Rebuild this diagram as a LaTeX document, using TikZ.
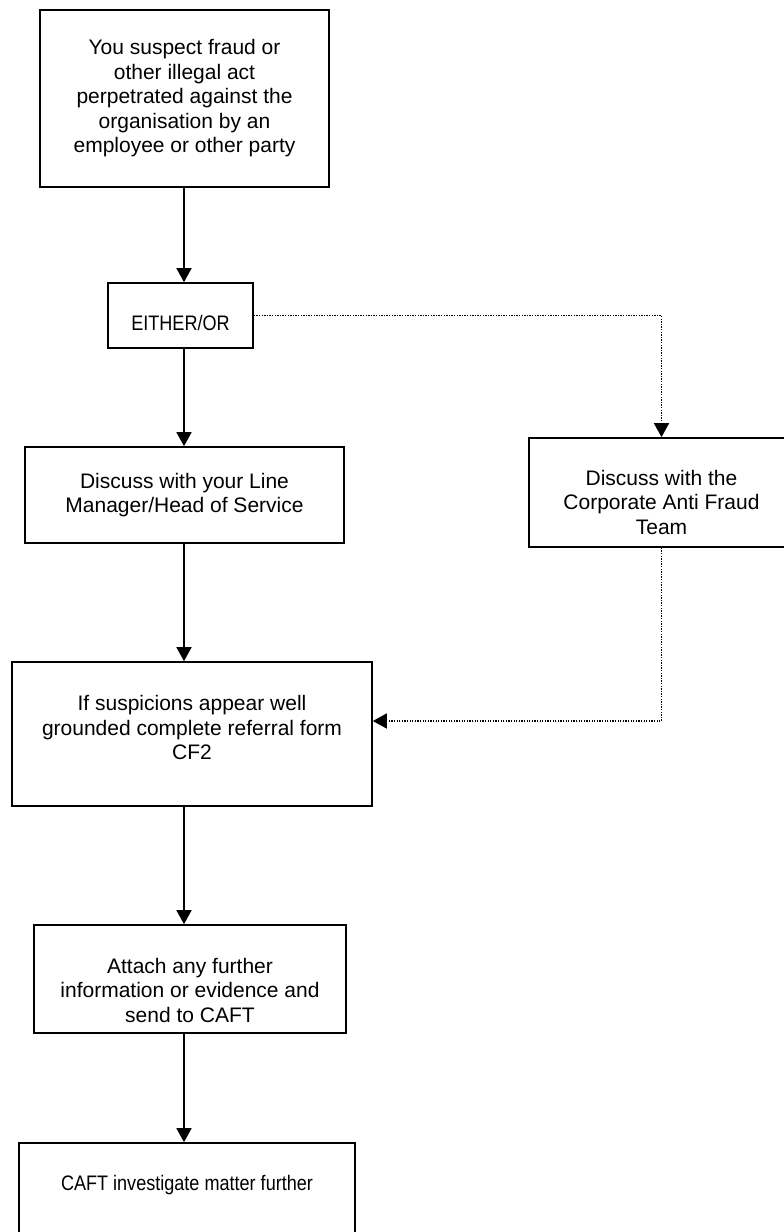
\documentclass[tikz,border=0pt]{standalone}
\usepackage{fontspec}
\setmainfont{Liberation Sans}
\newfontfamily\narrowfont[FakeStretch=0.86]{Liberation Sans}
\usepackage{tikz}
\usetikzlibrary{
    arrows.meta,
    positioning,
    calc
}
% invisible struts to push the text off the box centre
\newcommand{\padtop}[1]{\rule{0pt}{#1}}
\newcommand{\padbot}[1]{\rule[-#1]{0pt}{#1}}
\tikzset{
    % Base style for all boxes
    flow base/.style={
        font=\fontsize{21}{24.5}\selectfont,
        align=center,
        text=black,
        inner sep=0pt,
    },
    % Process boxes - plain black rectangle
    process/.style={
        flow base,
        rectangle,
        draw=black,
        line width=1.7pt,
    },
    % Narrow lettering
    narrow/.style={
        font=\narrowfont\fontsize{21}{24.5}\selectfont,
    },
    % Solid arrow
    arrow/.style={
        -{Triangle[length=14pt, width=15pt]},
        line width=1.7pt,
        draw=black,
    },
    % Dotted arrow variant
    arrow dotted/.style={
        arrow,
        line width=1.6pt,
        dash pattern=on 1.3pt off 1.3pt,
    },
}

\begin{document}
\begin{tikzpicture}[x=1pt, y=-1pt]
    \fill [white] (0,0) rectangle (784,1232);
    \clip (0,0) rectangle (784,1232);

    \node (suspect) [process, minimum width=289pt, minimum height=177pt] at (184.5,98.5)
        {You suspect fraud or\\ other illegal act\\ perpetrated against the\\ organisation by an\\ employee or other party};
    \node (either) [process, narrow, minimum width=145pt, minimum height=65pt] at (180.5,315.5)
        {\padtop{30.5pt}EITHER/OR};
    \node (manager) [process, minimum width=319pt, minimum height=96pt] at (184.5,495)
        {Discuss with your Line\\ Manager/Head of Service};
    \node (caft) [process, minimum width=265pt, minimum height=109pt] at (661.5,492.5)
        {\padtop{35pt}Discuss with the\\ Corporate Anti Fraud\\ Team};
    \node (referral) [process, minimum width=360pt, minimum height=144pt] at (192,734)
        {If suspicions appear well\\ grounded complete referral form\\ CF2\padbot{13pt}};
    \node (attach) [process, minimum width=312pt, minimum height=108pt] at (190,979)
        {\padtop{38pt}Attach any further\\ information or evidence and\\ send to CAFT};
    \node (investigate) [process, narrow, minimum width=336pt, minimum height=110pt] at (187,1198)
        {CAFT investigate matter further\padbot{30.5pt}};

    \coordinate (spine) at (184,0);

    \draw [arrow] (suspect.south -| spine) -- (either.north -| spine);
    \draw [arrow] (either.south -| spine) -- (manager.north -| spine);
    \draw [arrow] (manager.south -| spine) -- (referral.north -| spine);
    \draw [arrow] (referral.south -| spine) -- (attach.north -| spine);
    \draw [arrow] (attach.south -| spine) -- (investigate.north -| spine);

    \draw [arrow dotted] (either.east) -| (caft.north);
    \draw [arrow dotted] (caft.south) |- ($(referral.east)+(0,-13)$);
\end{tikzpicture}
\end{document}
